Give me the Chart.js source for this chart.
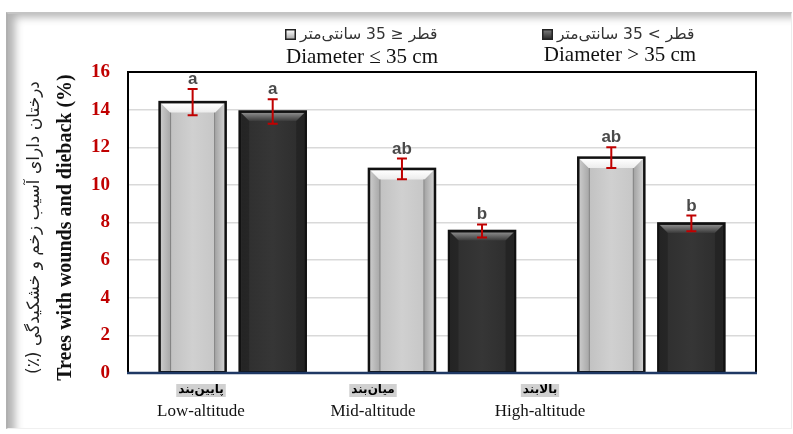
<!DOCTYPE html>
<html>
<head>
<meta charset="utf-8">
<script src="https://cdn.jsdelivr.net/npm/chart.js@4/dist/chart.umd.min.js"></script>
<style>
  html, body { margin: 0; padding: 0; background: #fff; }
  #wrap { position: relative; width: 793px; height: 434px; overflow: hidden; background: #fff; }
  #frame {
    position: absolute; left: 6px; top: 12px; width: 786px; height: 417px;
    border-top: 2px solid #c4c4c4; border-left: 2px solid #b0b0b0;
    border-right: 1px solid #ececec; border-bottom: 1px solid #f0f0f0;
    box-shadow: inset 10px 6px 9px -3px rgba(0,0,0,0.3);
    box-sizing: border-box;
  }
  canvas { position: absolute; left: 0; top: 0; }
</style>
</head>
<body>
<div id="wrap">
  <div id="frame"></div>
  <canvas id="c" width="793" height="434"></canvas>
</div>
<script>
// Share of trees with wounds and dieback (%) by altitude zone and stem diameter class
const categories = ['Low-altitude', 'Mid-altitude', 'High-altitude'];
const categoriesFa = ['پایین‌بند', 'میان‌بند', 'بالابند'];
const smallDiameter = [14.4, 10.85, 11.45];   // Diameter ≤ 35 cm
const largeDiameter = [13.9, 7.55, 7.95];     // Diameter > 35 cm
const smallError = [0.7, 0.55, 0.55];
const largeError = [0.65, 0.35, 0.42];
const smallLetters = ['a', 'ab', 'ab'];
const largeLetters = ['a', 'b', 'b'];
const yTicks = [0, 2, 4, 6, 8, 10, 12, 14, 16];

const seriesNames = ['Diameter ≤ 35 cm', 'Diameter > 35 cm'];
const seriesNamesFa = ['قطر ≤ 35 سانتی‌متر', 'قطر > 35 سانتی‌متر'];
const yTitle = 'Trees with wounds and dieback (%)';
const yTitleFa = 'درختان دارای آسیب زخم و خشکیدگی (٪)';

const SERIF = '"Liberation Serif", "Times New Roman", serif';
const SANS = '"Liberation Sans", Arial, sans-serif';
const FA = '"DejaVu Sans", "Liberation Sans", sans-serif';

function bevelBar(ctx, left, top, right, bottom, light) {
  const x0 = left + 1.5, x1 = right - 1.5, y0 = top + 1.5, y1 = bottom;
  const b = light ? 9 : 8;
  ctx.save();
  if (light) {
    let g = ctx.createLinearGradient(x0, 0, x1, 0);
    g.addColorStop(0, '#bcbcbc'); g.addColorStop(0.5, '#d0d0d0'); g.addColorStop(1, '#c3c3c3');
    ctx.fillStyle = g; ctx.fillRect(x0, y0, x1 - x0, y1 - y0);
    g = ctx.createLinearGradient(x0, 0, x0 + b, 0);
    g.addColorStop(0, '#c9c9c9'); g.addColorStop(1, '#a9a9a9');
    ctx.fillStyle = g;
    ctx.beginPath(); ctx.moveTo(x0, y0); ctx.lineTo(x0 + b, y0 + b); ctx.lineTo(x0 + b, y1); ctx.lineTo(x0, y1); ctx.closePath(); ctx.fill();
    g = ctx.createLinearGradient(x1 - b, 0, x1, 0);
    g.addColorStop(0, '#a4a4a4'); g.addColorStop(1, '#cfcfcf');
    ctx.fillStyle = g;
    ctx.beginPath(); ctx.moveTo(x1, y0); ctx.lineTo(x1, y1); ctx.lineTo(x1 - b, y1); ctx.lineTo(x1 - b, y0 + b); ctx.closePath(); ctx.fill();
    g = ctx.createLinearGradient(0, y0, 0, y0 + b);
    g.addColorStop(0, '#ffffff'); g.addColorStop(1, '#ececec');
    ctx.fillStyle = g;
    ctx.beginPath(); ctx.moveTo(x0, y0); ctx.lineTo(x1, y0); ctx.lineTo(x1 - b, y0 + b); ctx.lineTo(x0 + b, y0 + b); ctx.closePath(); ctx.fill();
    ctx.strokeStyle = '#7e7e7e'; ctx.lineWidth = 1;
    ctx.beginPath();
    ctx.moveTo(x0 + b + 0.5, y0 + b); ctx.lineTo(x0 + b + 0.5, y1);
    ctx.moveTo(x1 - b - 0.5, y0 + b); ctx.lineTo(x1 - b - 0.5, y1);
    ctx.stroke();
  } else {
    let g = ctx.createLinearGradient(x0, 0, x1, 0);
    g.addColorStop(0, '#2e2e2e'); g.addColorStop(0.5, '#363636'); g.addColorStop(1, '#2c2c2c');
    ctx.fillStyle = g; ctx.fillRect(x0, y0, x1 - x0, y1 - y0);
    g = ctx.createLinearGradient(0, y0, 0, y0 + b);
    g.addColorStop(0, '#8a8a8a'); g.addColorStop(1, '#3a3a3a');
    ctx.fillStyle = g;
    ctx.beginPath(); ctx.moveTo(x0, y0); ctx.lineTo(x1, y0); ctx.lineTo(x1 - b, y0 + b); ctx.lineTo(x0 + b, y0 + b); ctx.closePath(); ctx.fill();
    ctx.fillStyle = 'rgba(0,0,0,0.2)';
    ctx.beginPath(); ctx.moveTo(x0, y0); ctx.lineTo(x0 + b, y0 + b); ctx.lineTo(x0 + b, y1); ctx.lineTo(x0, y1); ctx.closePath(); ctx.fill();
    ctx.beginPath(); ctx.moveTo(x1, y0); ctx.lineTo(x1, y1); ctx.lineTo(x1 - b, y1); ctx.lineTo(x1 - b, y0 + b); ctx.closePath(); ctx.fill();
  }
  ctx.restore();
}

function legendIcon(ctx, x, y, light) {
  ctx.save();
  ctx.fillStyle = '#222';
  ctx.fillRect(x, y, 11, 11);
  const g = ctx.createLinearGradient(0, y + 1, 0, y + 10);
  if (light) { g.addColorStop(0, '#ffffff'); g.addColorStop(1, '#a8a8a8'); }
  else { g.addColorStop(0, '#7a7a7a'); g.addColorStop(1, '#2a2a2a'); }
  ctx.fillStyle = g;
  ctx.fillRect(x + 1.5, y + 1.5, 8, 8);
  ctx.restore();
}

const decorations = {
  id: 'decorations',
  afterDatasetsDraw(chart) {
    const ctx = chart.ctx;
    const area = chart.chartArea;
    const yScale = chart.scales.y;
    const errs = [smallError, largeError];
    const letters = [smallLetters, largeLetters];

    chart.data.datasets.forEach((ds, di) => {
      chart.getDatasetMeta(di).data.forEach((bar) => {
        const left = bar.x - bar.width / 2, right = bar.x + bar.width / 2;
        bevelBar(ctx, left, bar.y, right, bar.base, di === 0);
        ctx.save();
        ctx.strokeStyle = '#111'; ctx.lineWidth = 2.5;
        ctx.strokeRect(left, bar.y, right - left, bar.base - bar.y);
        ctx.restore();
      });
    });

    // error bars and significance letters
    chart.data.datasets.forEach((ds, di) => {
      chart.getDatasetMeta(di).data.forEach((bar, i) => {
        const v = ds.data[i], e = errs[di][i];
        const yHi = yScale.getPixelForValue(v + e), yLo = yScale.getPixelForValue(v - e);
        ctx.save();
        ctx.strokeStyle = '#c00000'; ctx.lineWidth = 2;
        ctx.beginPath();
        ctx.moveTo(bar.x, yHi); ctx.lineTo(bar.x, yLo);
        ctx.moveTo(bar.x - 5, yHi); ctx.lineTo(bar.x + 5, yHi);
        ctx.moveTo(bar.x - 5, yLo); ctx.lineTo(bar.x + 5, yLo);
        ctx.stroke();
        ctx.fillStyle = '#4a4a4a';
        ctx.font = 'bold 17px ' + SANS;
        ctx.textAlign = 'center'; ctx.textBaseline = 'alphabetic';
        ctx.fillText(letters[di][i], bar.x, yHi - 5);
        ctx.restore();
      });
    });

    // plot frame
    ctx.save();
    ctx.strokeStyle = '#000'; ctx.lineWidth = 2;
    ctx.beginPath();
    ctx.moveTo(area.left, area.bottom); ctx.lineTo(area.left, area.top);
    ctx.lineTo(area.right, area.top); ctx.lineTo(area.right, area.bottom);
    ctx.stroke();
    ctx.strokeStyle = '#1f3864'; ctx.lineWidth = 2.5;
    ctx.beginPath(); ctx.moveTo(area.left - 1, area.bottom); ctx.lineTo(area.right + 1, area.bottom); ctx.stroke();
    ctx.restore();
  },
  afterDraw(chart) {
    const ctx = chart.ctx;
    const area = chart.chartArea;
    const midY = (area.top + area.bottom) / 2 + 5;

    // y axis titles (rotated)
    ctx.save();
    ctx.translate(35, midY);
    ctx.rotate(-Math.PI / 2);
    ctx.textAlign = 'center'; ctx.textBaseline = 'middle';
    ctx.fillStyle = '#222';
    ctx.direction = 'rtl';
    ctx.font = '17px ' + FA;
    ctx.fillText(yTitleFa, 0, 0);
    ctx.restore();
    ctx.save();
    ctx.translate(66, midY);
    ctx.rotate(-Math.PI / 2);
    ctx.textAlign = 'center'; ctx.textBaseline = 'middle';
    ctx.fillStyle = '#111';
    ctx.font = 'bold 20px ' + SERIF;
    ctx.fillText(yTitle, 0, 0);
    ctx.restore();

    // legend
    const legendCenters = [362, 620];
    const iconX = [285, 542];
    [0, 1].forEach(k => {
      legendIcon(ctx, iconX[k], 29, k === 0);
      ctx.save();
      ctx.fillStyle = '#333';
      ctx.font = '15.5px ' + FA;
      ctx.direction = 'rtl';
      ctx.textAlign = 'left';
      ctx.textBaseline = 'middle';
      ctx.fillText(seriesNamesFa[k], iconX[k] + 15, 35);
      ctx.restore();
      ctx.save();
      ctx.fillStyle = '#111';
      ctx.font = '21px ' + SERIF;
      ctx.textAlign = 'center'; ctx.textBaseline = 'middle';
      ctx.fillText(seriesNames[k], legendCenters[k], k === 0 ? 57 : 55);
      ctx.restore();
    });

    // category labels
    const labelCenters = [201, 373, 540];
    categories.forEach((c, i) => {
      ctx.save();
      ctx.font = 'bold 12px ' + FA;
      ctx.direction = 'rtl';
      const w = ctx.measureText(categoriesFa[i]).width;
      ctx.fillStyle = 'rgba(200,200,200,0.85)';
      ctx.fillRect(labelCenters[i] - w / 2 - 2, 384, w + 4, 13);
      ctx.fillStyle = '#000';
      ctx.textAlign = 'center'; ctx.textBaseline = 'middle';
      ctx.fillText(categoriesFa[i], labelCenters[i], 390);
      ctx.restore();
      ctx.save();
      ctx.font = '17px ' + SERIF;
      ctx.fillStyle = '#111';
      ctx.textAlign = 'center'; ctx.textBaseline = 'middle';
      ctx.fillText(c, labelCenters[i], 412);
      ctx.restore();
    });
  }
};

new Chart(document.getElementById('c'), {
  type: 'bar',
  data: {
    labels: categories,
    datasets: [
      { label: seriesNames[0], data: smallDiameter, backgroundColor: '#c8c8c8', borderWidth: 0,
        categoryPercentage: 0.765, barPercentage: 0.825 },
      { label: seriesNames[1], data: largeDiameter, backgroundColor: '#333333', borderWidth: 0,
        categoryPercentage: 0.765, barPercentage: 0.825 }
    ]
  },
  options: {
    responsive: false,
    animation: false,
    devicePixelRatio: 1,
    layout: { padding: { top: 72, right: 37, left: 0, bottom: 0 } },
    plugins: { legend: { display: false }, tooltip: { enabled: false } },
    scales: {
      x: {
        grid: { display: false, drawTicks: false },
        border: { display: false },
        ticks: { display: false },
        afterFit(scale) { scale.height = 61; }
      },
      y: {
        min: 0, max: 16,
        afterBuildTicks(scale) { scale.ticks = yTicks.map(v => ({ value: v })); },
        grid: { color: '#d9d9d9', lineWidth: 1.5, drawTicks: false },
        border: { display: false },
        ticks: {
          color: '#c00000', padding: 18,
          font: { family: SERIF, size: 19, weight: 'bold' }
        },
        afterFit(scale) { scale.width = 128; }
      }
    }
  },
  plugins: [decorations]
});
</script>
</body>
</html>
